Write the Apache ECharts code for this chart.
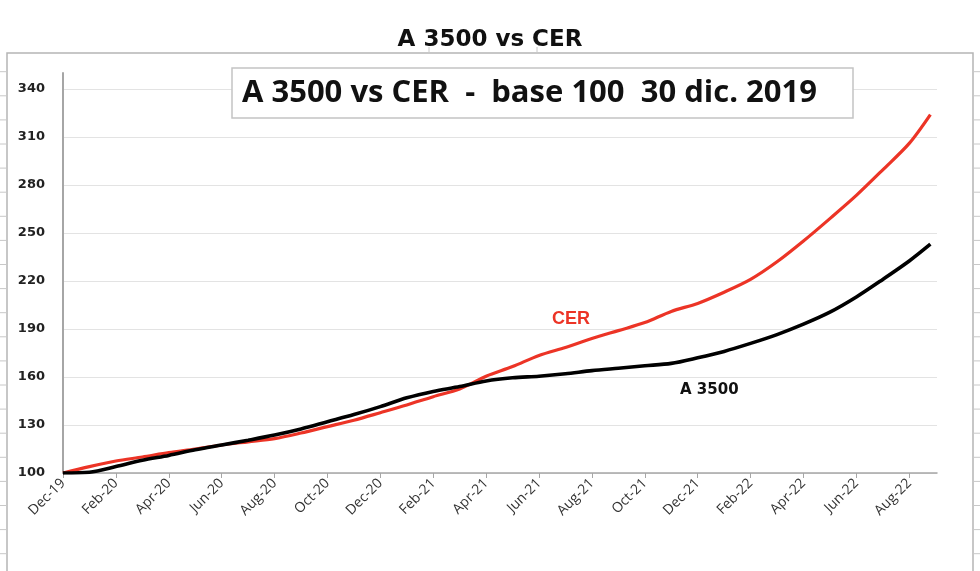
<!DOCTYPE html>
<html>
<head>
<meta charset="utf-8">
<script src="https://cdn.jsdelivr.net/npm/echarts@6/dist/echarts.min.js"></script>
<style>html,body{margin:0;padding:0;background:#fff;}#c{width:980px;height:571px;}</style>
</head>
<body>
<div id="c"></div>
<script>
// months since 30 dic. 2019
const months = [0,1,2,3,4,5,6,7,8,9,10,11,12,13,14,15,16,17,18,19,20,21,22,23,24,25,26,27,28,29,30,31,32,32.8];
const cer = [100,104,107.5,110,112.7,115,117.5,119.5,121.5,125,129,133,137.7,142.5,147.7,152.5,160.5,166.5,173.5,178.5,184,189,194,201,206,213,221,232,245,259,273.5,289.5,306,324];
const a3500 = [100,100.5,104,108,111,114.5,117.5,120.5,123.7,127.5,132,136.5,141.5,147,151,154,157.5,159.5,160.5,162,164,165.5,167,168.5,172,176,181,186.5,193,200.5,210,221,232.5,243];
const tickLabels = ['Dec-19','Feb-20','Apr-20','Jun-20','Aug-20','Oct-20','Dec-20','Feb-21','Apr-21','Jun-21','Aug-21','Oct-21','Dec-21','Feb-22','Apr-22','Jun-22','Aug-22'];
const yTicks = [100,130,160,190,220,250,280,310,340];

const xTicks = tickLabels.map((_, i) => i * 2);
const chart = echarts.init(document.getElementById('c'));

const frame = [
  {type:'polyline', shape:{points:[[7,571],[7,53],[973,53],[973,571]]}, style:{stroke:'#b5b5b5', lineWidth:1.5, fill:null}, silent:true}
];
for (let y = 71.7; y < 571; y += 24.1) {
  frame.push({type:'line', shape:{x1:0,y1:y,x2:7,y2:y}, style:{stroke:'#c8c8c8', lineWidth:1}, silent:true});
  frame.push({type:'line', shape:{x1:973,y1:y,x2:980,y2:y}, style:{stroke:'#c8c8c8', lineWidth:1}, silent:true});
}
[429,537].forEach(x => frame.push({type:'line', shape:{x1:x,y1:47,x2:x,y2:53}, style:{stroke:'#c8c8c8', lineWidth:1}, silent:true}));

chart.setOption({
  animation: false,
  backgroundColor: '#fff',
  title: {
    text: 'A 3500 vs CER',
    left: 'center', top: 24,
    textStyle: {fontFamily: 'DejaVu Sans', fontWeight: 'bold', fontSize: 23, color: '#111'}
  },
  grid: {left: 63, right: 43, top: 73, bottom: 98},
  xAxis: {
    type: 'value', min: 0, max: 33.05,
    axisLine: {lineStyle: {color: '#a6a6a6', width: 1.5}},
    axisTick: {show: true, customValues: xTicks, length: 5, lineStyle: {color: '#a6a6a6'}},
    axisLabel: {
      customValues: xTicks, rotate: 45, margin: 8,
      fontFamily: 'Open Sans', fontSize: 14, color: '#333',
      formatter: v => tickLabels[Math.round(v / 2)]
    },
    splitLine: {show: false}
  },
  yAxis: {
    type: 'value', min: 100, max: 350, interval: 30,
    axisLine: {show: true, lineStyle: {color: '#a6a6a6', width: 2}},
    axisTick: {show: false, customValues: yTicks},
    axisLabel: {customValues: yTicks, margin: 18, fontFamily: 'DejaVu Sans', fontWeight: 'bold', fontSize: 13, color: '#222'},
    splitLine: {show: true, lineStyle: {color: '#e3e3e3', width: 1}}
  },
  series: [
    {name: 'CER', type: 'line', data: months.map((m, i) => [m, cer[i]]), showSymbol: false, smooth: 0.3,
     lineStyle: {color: '#ec3426', width: 3.2}, z: 2},
    {name: 'A 3500', type: 'line', data: months.map((m, i) => [m, a3500[i]]), showSymbol: false, smooth: 0.3,
     lineStyle: {color: '#000', width: 3.6}, z: 3}
  ],
  graphic: frame.concat([
    {type:'rect', shape:{x:232, y:68, width:621, height:50}, style:{fill:'#fff', stroke:'#c4c4c4', lineWidth:1.5}, z: 10},
    {type:'text', left: 242, top: 78, z: 11,
     style:{text:'A 3500 vs CER  -  base 100  30 dic. 2019', fontFamily:'Open Sans', fontWeight:'bold', fontSize:31, fill:'#111'}},
    {type:'text', left: 552, top: 310, z: 11,
     style:{text:'CER', fontFamily:'Liberation Sans', fontWeight:'bold', fontSize:18, fill:'#ec3426'}},
    {type:'text', left: 680, top: 383, z: 11,
     style:{text:'A 3500', fontFamily:'DejaVu Sans', fontWeight:'bold', fontSize:15, fill:'#111'}}
  ])
});
</script>
</body>
</html>
